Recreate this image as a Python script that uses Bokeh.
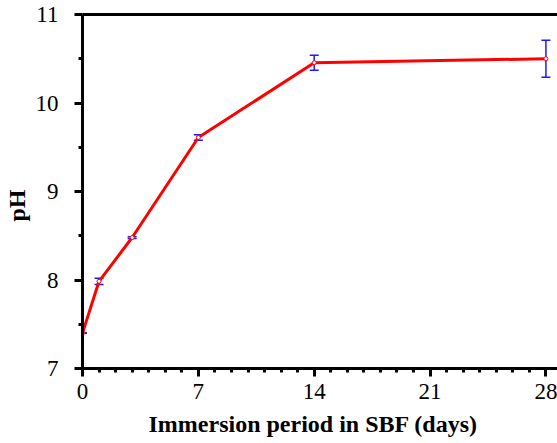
from bokeh.plotting import figure
from bokeh.models import (ColumnDataSource, Whisker, TeeHead, FixedTicker, LinearAxis,
                          Range1d, Title)
from bokeh.embed import file_html
from bokeh.resources import INLINE

days = [0, 1, 3, 7, 14, 28]
ph = [7.40, 7.985, 8.48, 9.61, 10.455, 10.50]
err = [0.0, 0.035, 0.01, 0.03, 0.085, 0.21]

x_ticks = [0, 7, 14, 21, 28]
x_minor = list(range(0, 29))
y_ticks = [7, 8, 9, 10, 11]
y_minor = [7.5, 8.5, 9.5, 10.5]

FONT = "Liberation Serif"

src = ColumnDataSource(dict(
    x=days, y=ph,
    upper=[v + e for v, e in zip(ph, err)],
    lower=[v - e for v, e in zip(ph, err)],
))

p = figure(width=557, height=443, output_backend="svg", toolbar_location=None,
           x_range=Range1d(0, 28.7), y_range=Range1d(7, 11),
           min_border_left=82, min_border_right=0, min_border_top=14, min_border_bottom=75)
p.outline_line_color = None
p.grid.visible = False
p.background_fill_color = "white"
p.border_fill_color = "white"

p.line("x", "y", source=src, line_color="#ff0000", line_width=3)
w = Whisker(base="x", upper="upper", lower="lower", source=src,
            line_color="#1a1aff", line_width=1.5,
            upper_head=TeeHead(size=9, line_color="#1a1aff", line_width=1.5),
            lower_head=TeeHead(size=9, line_color="#1a1aff", line_width=1.5))
p.add_layout(w)
p.scatter("x", "y", source=src, size=4, marker="circle", fill_color="white",
          line_color="#ff0000", line_width=1)

xa = p.xaxis[0]
xa.ticker = FixedTicker(ticks=x_ticks, minor_ticks=x_minor)
ya = p.yaxis[0]
ya.ticker = FixedTicker(ticks=y_ticks, minor_ticks=y_minor)

for ax in (xa, ya):
    ax.axis_line_width = 3
    ax.axis_line_color = "black"
    ax.major_tick_line_width = 3
    ax.minor_tick_line_width = 3
    ax.major_tick_out = 8
    ax.major_tick_in = 0
    ax.minor_tick_out = 4
    ax.minor_tick_in = 0
    ax.major_label_text_font = FONT
    ax.major_label_text_font_size = "23px"
    ax.major_label_text_color = "black"

xa.major_label_standoff = 7
ya.major_label_standoff = 16

top = LinearAxis(ticker=FixedTicker(ticks=[]), axis_line_width=3,
                 major_tick_line_color=None, minor_tick_line_color=None,
                 major_label_text_font_size="0px")
p.add_layout(top, "above")

xt = Title(text="Immersion period in SBF (days)", align="left", offset=66,
           text_font=FONT, text_font_size="24px", text_font_style="bold",
           text_color="black", standoff=14, vertical_align="bottom")
p.add_layout(xt, "below")

yt = Title(text="pH", align="left", offset=147,
           text_font=FONT, text_font_size="24px", text_font_style="bold",
           text_color="black", standoff=2, vertical_align="top")
p.add_layout(yt, "left")

open("out.html", "w").write(file_html(p, INLINE))
